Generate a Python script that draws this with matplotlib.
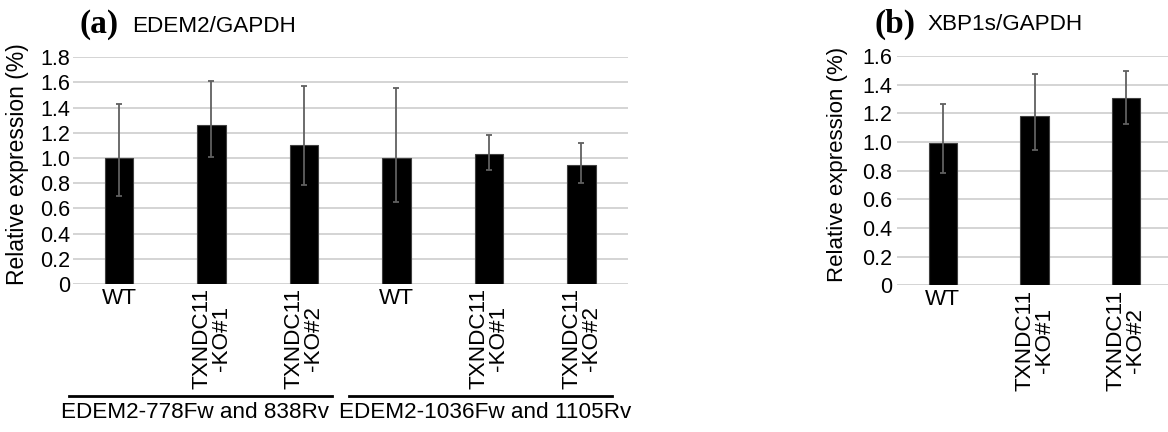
import matplotlib
matplotlib.use("Agg")
import matplotlib.pyplot as plt
import numpy as np

plt.rcParams['font.family'] = ['Liberation Sans', 'DejaVu Sans']

# ---- data ----
cats_a = ["WT", "TXNDC11\n-KO#1", "TXNDC11\n-KO#2", "WT", "TXNDC11\n-KO#1", "TXNDC11\n-KO#2"]
vals_a = [1.00, 1.265, 1.104, 1.00, 1.035, 0.942]
err_hi_a = [1.432, 1.615, 1.570, 1.554, 1.186, 1.120]
err_lo_a = [0.701, 1.008, 0.786, 0.648, 0.905, 0.802]
groups_a = ["EDEM2-778Fw and 838Rv", "EDEM2-1036Fw and 1105Rv"]
yticks_a = [0, 0.2, 0.4, 0.6, 0.8, 1.0, 1.2, 1.4, 1.6, 1.8]
ytick_labels_a = ["0", "0.2", "0.4", "0.6", "0.8", "1.0", "1.2", "1.4", "1.6", "1.8"]

cats_b = ["WT", "TXNDC11\n-KO#1", "TXNDC11\n-KO#2"]
vals_b = [0.99, 1.179, 1.305]
err_hi_b = [1.265, 1.477, 1.498]
err_lo_b = [0.784, 0.944, 1.128]
yticks_b = [0, 0.2, 0.4, 0.6, 0.8, 1.0, 1.2, 1.4, 1.6]
ytick_labels_b = ["0", "0.2", "0.4", "0.6", "0.8", "1.0", "1.2", "1.4", "1.6"]

FS = 15.5
XFS = 16.2
W, H = 1168, 432
fig = plt.figure(figsize=(W / 100, H / 100), dpi=100)


def panel(rect, cats, vals, hi, lo, yticks, ylabels, ymax, ypad, ylab_x, ylab_fs):
    ax = fig.add_axes(rect)
    x = np.arange(len(cats))
    vals = np.array(vals)
    yerr = np.array([vals - np.array(lo), np.array(hi) - vals])
    ax.bar(x, vals, width=0.31, color='black', edgecolor='#404040', linewidth=0.8, zorder=3)
    ax.errorbar(x, vals, yerr=yerr, fmt='none', ecolor='#606060', elinewidth=1.3,
                capsize=2.5, capthick=1.3, zorder=4)
    ax.set_xlim(-0.5, len(cats) - 0.5)
    ax.set_ylim(0, ymax)
    ax.set_yticks(yticks)
    ax.set_yticklabels(ylabels, fontsize=FS)
    ax.grid(axis='y', color='#d4d4d4', linewidth=1.4, zorder=0)
    ax.set_axisbelow(True)
    for s in ax.spines.values():
        s.set_visible(False)
    ax.tick_params(axis='both', length=0)
    ax.tick_params(axis='y', pad=ypad)
    ax.tick_params(axis='x', pad=3)
    ax.set_xticks(x)
    ax.set_xticklabels(cats, fontsize=XFS)
    for lab in ax.get_xticklabels():
        if "\n" in lab.get_text():
            lab.set_rotation(90)
            lab.set_va('top')
            lab.set_ha('center')
            lab.set_multialignment('center')
            lab.set_linespacing(0.9)
    ax.set_ylabel("Relative expression (%)", fontsize=ylab_fs)
    ax.yaxis.set_label_coords(ylab_x, 0.527)
    return ax

ax_a = panel([72.7 / W, 1 - 284 / H, 555 / W, 226.7 / H], cats_a, vals_a, err_hi_a, err_lo_a,
             yticks_a, ytick_labels_a, 1.8, 1.5, -0.079, 16.5)
ax_b = panel([897 / W, 1 - 285.3 / H, 275 / W, 229.3 / H], cats_b, vals_b, err_hi_b, err_lo_b,
             yticks_b, ytick_labels_b, 1.6, 3.6, -0.178, 16.0)

# group lines and labels under panel (a)
tr = ax_a.get_xaxis_transform()
for (x0, x1), xc, txt in zip([(-0.54, 2.30), (2.485, 5.327)], [0.82, 3.955], groups_a):
    ax_a.plot([x0, x1], [-0.493, -0.493], color='black', linewidth=2, transform=tr, clip_on=False)
    ax_a.text(xc, -0.565, txt, transform=tr, ha='center', va='center', fontsize=16.2)

# titles
fig.text(79 / W, 1 - 33 / H, "(a)", fontsize=24, fontweight='bold', family='Liberation Serif',
         va='baseline', ha='left')
fig.text(132 / W, 1 - 32 / H, "EDEM2/GAPDH", fontsize=16.2, va='baseline', ha='left')
fig.text(875 / W, 1 - 33 / H, "(b)", fontsize=24, fontweight='bold', family='Liberation Serif',
         va='baseline', ha='left')
fig.text(927 / W, 1 - 30 / H, "XBP1s/GAPDH", fontsize=16.2, va='baseline', ha='left')

fig.savefig("out.png", dpi=100)
